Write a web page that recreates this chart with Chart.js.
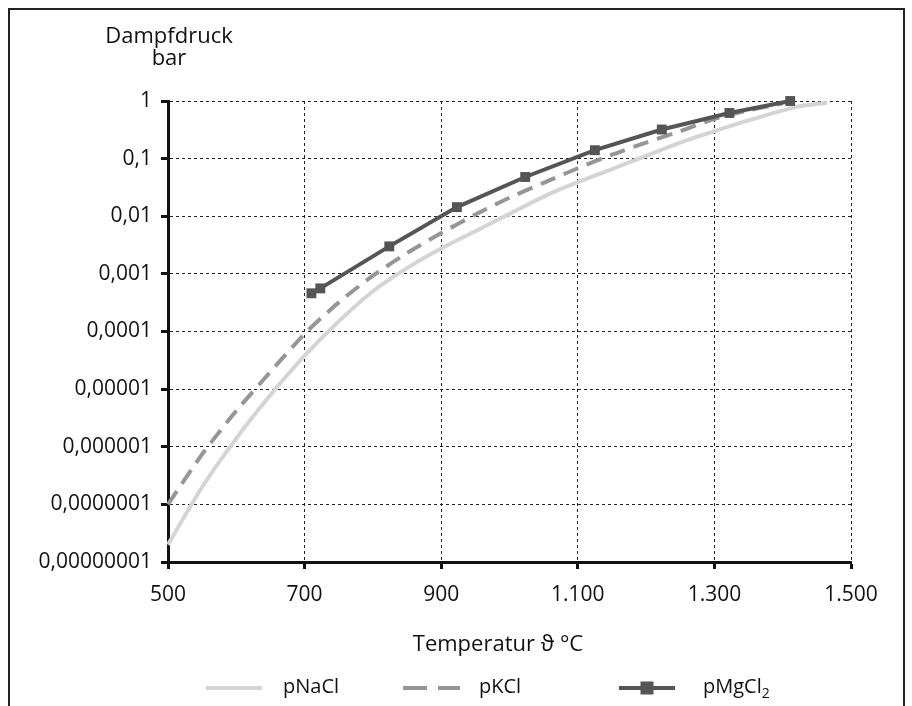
<!DOCTYPE html>
<html>
<head>
<meta charset="utf-8">
<script src="https://cdn.jsdelivr.net/npm/chart.js@4/dist/chart.umd.min.js"></script>
<style>
    body { margin: 0; background: #fff; }
    #wrap { position: relative; width: 912px; height: 706px; overflow: hidden; }
    #frame { position: absolute; left: 8px; top: 8px; width: 897px; height: 720px;
             border: 2px solid #222; box-sizing: border-box; }
    canvas { position: absolute; left: 0; top: 0; }
    .lbl { position: absolute; font-family: "Open Sans", sans-serif; color: #111;
           font-size: 22px; line-height: 22px; text-align: center; white-space: nowrap; }
</style>
</head>
<body>
<div id="wrap">
    <div id="frame"></div>
    <canvas id="myChart" width="912" height="706"></canvas>
    <div class="lbl" style="left: 89px; top: 23px; width: 160px;">Dampfdruck<br>bar</div>
    <div class="lbl" style="left: 398px; top: 631px; width: 200px;">Temperatur ϑ °C</div>
</div>
<script>
// Werte
const naclTemp = [500, 550, 600, 650, 700, 750, 800, 850, 900, 950, 1000, 1060, 1150, 1200, 1250, 1300, 1350, 1420, 1465];
const naclPressure = [2.0e-8, 2.0e-7, 1.4e-6, 7.9e-6, 3.8e-5, 1.5e-4, 5.0e-4, 1.26e-3, 2.75e-3, 5.5e-3, 0.011, 0.025, 0.066, 0.112, 0.19, 0.30, 0.46, 0.79, 0.93];

const kclTemp = [500, 550, 600, 650, 700, 750, 800, 850, 900, 950, 1000, 1050, 1100, 1150, 1200, 1250, 1300, 1350, 1400];
const kclPressure = [1.0e-7, 7.4e-7, 4.2e-6, 2.0e-5, 9.1e-5, 3.2e-4, 9.3e-4, 2.3e-3, 5.1e-3, 0.0107, 0.021, 0.038, 0.068, 0.117, 0.19, 0.30, 0.49, 0.69, 0.91];

const mgTemp = [710, 723, 824, 923, 1023, 1125, 1223, 1322, 1411];
const mgPressure = [4.6e-4, 5.6e-4, 3.0e-3, 0.0144, 0.048, 0.14, 0.32, 0.62, 1.0];

const xTickValues = [500, 700, 900, 1100, 1300, 1500];
const xTickLabels = ["500", "700", "900", "1.100", "1.300", "1.500"];
const yTickValues = [1e-8, 1e-7, 1e-6, 1e-5, 1e-4, 1e-3, 1e-2, 1e-1, 1];
const yTickLabels = ["0,00000001", "0,0000001", "0,000001", "0,00001", "0,0001", "0,001", "0,01", "0,1", "1"];

const seriesNames = ["pNaCl", "pKCl", "pMgCl"];

function toPoints(xs, ys) {
    let pts = [];
    for (let i = 0; i < xs.length; i++) {
        pts.push({ x: xs[i], y: ys[i] });
    }
    return pts;
}

const colNaCl = "rgb(212, 212, 212)";
const colKCl = "rgb(150, 150, 150)";
const colMg = "rgb(85, 85, 85)";
const fontName = "'Open Sans', sans-serif";

// Legende unten, zeichnet mit den Stilen der Datensaetze
const legendPlugin = {
    id: "bottomLegend",
    afterDraw(chart) {
        const ctx = chart.ctx;
        const ds = chart.data.datasets;
        const y = 688;
        ctx.save();
        ctx.lineWidth = 4;

        ctx.strokeStyle = ds[0].borderColor;
        ctx.beginPath();
        ctx.moveTo(206, y);
        ctx.lineTo(262, y);
        ctx.stroke();

        ctx.strokeStyle = ds[1].borderColor;
        ctx.setLineDash([24, 11]);
        ctx.beginPath();
        ctx.moveTo(403, y);
        ctx.lineTo(460, y);
        ctx.stroke();
        ctx.setLineDash([]);

        ctx.strokeStyle = ds[2].borderColor;
        ctx.beginPath();
        ctx.moveTo(619, y);
        ctx.lineTo(675, y);
        ctx.stroke();
        ctx.fillStyle = ds[2].pointBackgroundColor;
        ctx.fillRect(647 - 6.5, y - 6.5, 13, 13);

        ctx.fillStyle = "#111";
        ctx.textBaseline = "alphabetic";
        ctx.font = "20px " + fontName;
        ctx.fillText(seriesNames[0], 283, 693);
        ctx.fillText(seriesNames[1], 479, 693);
        ctx.fillText(seriesNames[2], 703, 693);
        const w = ctx.measureText(seriesNames[2]).width;
        ctx.font = "14px " + fontName;
        ctx.fillText("2", 703 + w, 698);
        ctx.restore();
    }
};

const data = {
    datasets: [
        {
            label: "pNaCl",
            data: toPoints(naclTemp, naclPressure),
            borderColor: colNaCl,
            borderWidth: 4,
            pointRadius: 0,
            tension: 0.25,
            clip: false,
            order: 3,
        },
        {
            label: "pKCl",
            data: toPoints(kclTemp, kclPressure),
            borderColor: colKCl,
            borderWidth: 4,
            borderDash: [16, 9],
            pointRadius: 0,
            tension: 0.25,
            clip: false,
            order: 2,
        },
        {
            label: "pMgCl2",
            data: toPoints(mgTemp, mgPressure),
            borderColor: colMg,
            borderWidth: 4,
            pointStyle: "rect",
            pointRadius: 7,
            pointBorderWidth: 0,
            pointBackgroundColor: colMg,
            tension: 0,
            clip: false,
            order: 1,
        },
    ],
};

const gridDots = {
    color: "#222",
    lineWidth: 1,
    tickLength: 7,
    tickColor: "#111",
    tickWidth: 3,
    tickBorderDash: [],
};

const config = {
    type: "line",
    data: data,
    plugins: [legendPlugin],
    options: {
        responsive: false,
        animation: false,
        layout: { padding: { top: 101, right: 61, left: 0, bottom: 0 } },
        plugins: {
            legend: { display: false },
            tooltip: { enabled: false },
        },
        scales: {
            x: {
                type: "linear",
                min: 500,
                max: 1500,
                afterFit: (s) => { s.height = 144; },
                afterBuildTicks: (s) => { s.ticks = xTickValues.map((v) => ({ value: v })); },
                ticks: {
                    autoSkip: false,
                    maxRotation: 0,
                    padding: 13,
                    color: "#111",
                    font: { family: fontName, size: 21 },
                    callback: (v) => xTickLabels[xTickValues.indexOf(v)],
                },
                grid: gridDots,
                border: { color: "#111", width: 3, dash: [3, 3] },
            },
            y: {
                type: "logarithmic",
                min: 1e-8,
                max: 1,
                afterFit: (s) => { s.width = 168; },
                afterBuildTicks: (s) => { s.ticks = yTickValues.map((v) => ({ value: v })); },
                ticks: {
                    autoSkip: false,
                    padding: 9,
                    color: "#111",
                    font: { family: fontName, size: 21 },
                    callback: (v) => yTickLabels[yTickValues.indexOf(v)],
                },
                grid: gridDots,
                border: { color: "#111", width: 3, dash: [3, 3] },
            },
        },
    },
};

new Chart(document.getElementById("myChart"), config);
</script>
</body>
</html>
